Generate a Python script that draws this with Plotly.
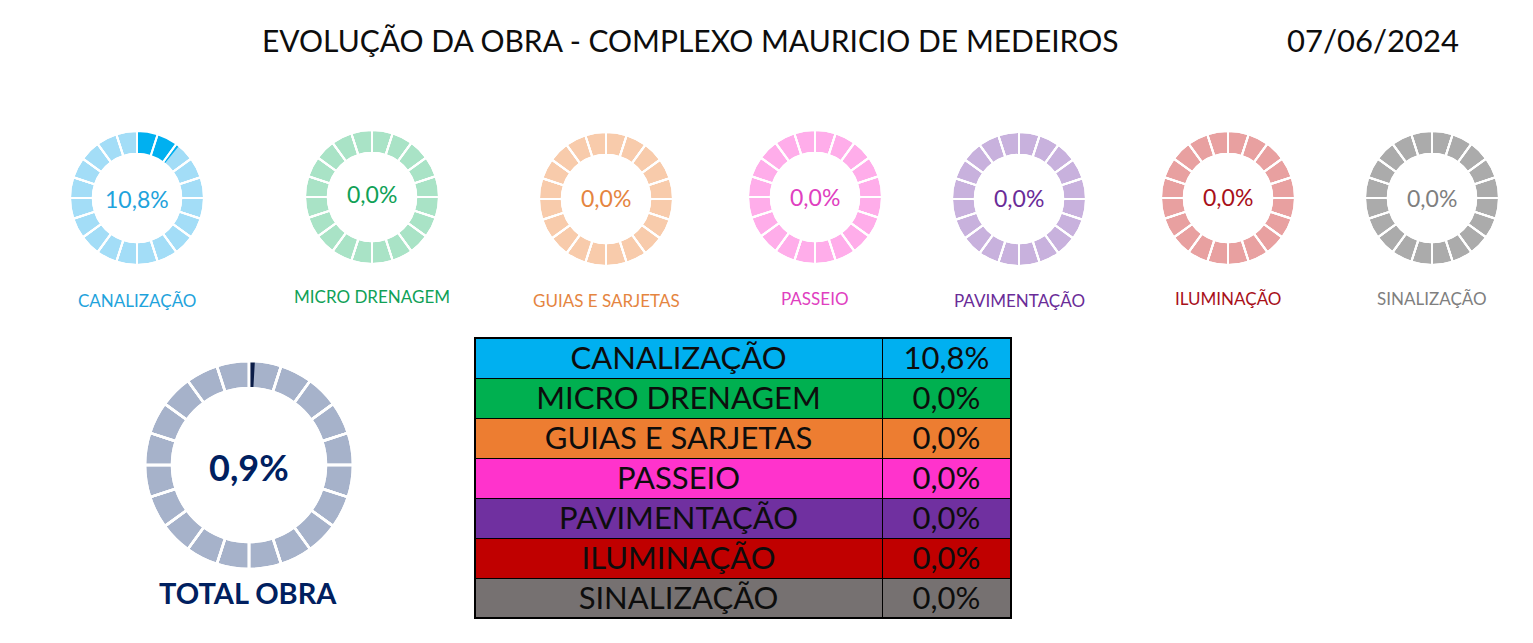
import plotly.graph_objects as go

W, H = 1533, 643

# ---- data ----
title_text = "EVOLUÇÃO DA OBRA - COMPLEXO MAURICIO DE MEDEIROS"
date_text = "07/06/2024"
categories = ["CANALIZAÇÃO", "MICRO DRENAGEM", "GUIAS E SARJETAS", "PASSEIO",
              "PAVIMENTAÇÃO", "ILUMINAÇÃO", "SINALIZAÇÃO"]
progress = [10.8, 0.0, 0.0, 0.0, 0.0, 0.0, 0.0]
total_label = "TOTAL OBRA"
total_progress = 0.9
n_segments = 20

# ---- styles ----
dark_colors = ["#00B0F0", "#00B050", "#ED7D31", "#FF33CC", "#7030A0", "#C00000", "#767171"]
light_colors = ["#A3DDF7", "#A9E3C6", "#F8CBAB", "#FFADEA", "#C8B1DD", "#E8A0A0", "#ABABAB"]
text_colors = ["#1FA3DC", "#10A157", "#E5853F", "#E040C0", "#6A2C98", "#A8101A", "#7F7F7F"]
table_fill = ["#00B0F0", "#00B050", "#ED7D31", "#FF33CC", "#7030A0", "#C00000", "#767171"]
total_light = "#A6B2CA"
total_dark = "#0B1D48"
total_text = "#002060"

small_cx = [137, 372, 606, 815, 1019, 1228, 1432]
small_cy = [198, 197, 199, 197, 199, 198, 198]
small_r = 67
label_y = [300, 296, 300, 298, 300, 298, 298]
pct_y = [199, 194, 198, 197, 198, 197, 198]
big_cx, big_cy, big_r = 249, 465, 104

FONT = "Lato"


def fmt(v):
    return f"{v:.1f}%".replace(".", ",")


def domain(cx, cy, r):
    return dict(x=[(cx - r) / W, (cx + r) / W], y=[1 - (cy + r) / H, 1 - (cy - r) / H])


def donut(fig, cx, cy, r, value, light, dark, hole, gap):
    d = domain(cx, cy, r)
    common = dict(domain=d, hole=hole, sort=False, direction="clockwise", rotation=0,
                  textinfo="none", hoverinfo="skip", showlegend=False)
    fig.add_trace(go.Pie(values=[1] * n_segments,
                         marker=dict(colors=[light] * n_segments,
                                     line=dict(color="white", width=gap)), **common))
    fig.add_trace(go.Pie(values=[value, 100 - value],
                         marker=dict(colors=[dark, "rgba(0,0,0,0)"],
                                     line=dict(color="rgba(0,0,0,0)", width=0)), **common))
    fig.add_trace(go.Pie(values=[1] * n_segments,
                         marker=dict(colors=["rgba(0,0,0,0)"] * n_segments,
                                     line=dict(color="white", width=gap)), **common))


fig = go.Figure()
annotations = []

for i, cat in enumerate(categories):
    donut(fig, small_cx[i], small_cy[i], small_r, progress[i],
          light_colors[i], dark_colors[i], 0.66, 2)
    annotations.append(dict(x=small_cx[i] / W, y=1 - pct_y[i] / H, text=fmt(progress[i]),
                            font=dict(family=FONT, size=23, color=text_colors[i])))
    annotations.append(dict(x=small_cx[i] / W, y=1 - label_y[i] / H, text=cat,
                            font=dict(family=FONT, size=17, color=text_colors[i])))

donut(fig, big_cx, big_cy, big_r, total_progress, total_light, total_dark, 0.74, 2.5)
annotations.append(dict(x=big_cx / W, y=1 - 467 / H, text=f"<b>{fmt(total_progress)}</b>",
                        font=dict(family=FONT, size=36, color=total_text)))
annotations.append(dict(x=248 / W, y=1 - 592 / H, text=f"<b>{total_label}</b>",
                        font=dict(family=FONT, size=29, color=total_text)))

annotations.append(dict(x=690 / W, y=1 - 40 / H, text=title_text,
                        font=dict(family=FONT, size=30, color="#0D0D0D")))
annotations.append(dict(x=1373 / W, y=1 - 40 / H, text=date_text,
                        font=dict(family=FONT, size=31, color="#0D0D0D")))

for a in annotations:
    a.update(xref="paper", yref="paper", showarrow=False, xanchor="center", yanchor="middle")

# ---- table ----
tx0, tx1, ty0, ty1 = 475, 1011, 338, 618
row_h = (ty1 - ty0) / len(categories)
pct_strings = [fmt(v) for v in progress]
fig.add_trace(go.Table(
    domain=dict(x=[tx0 / W, tx1 / W], y=[1 - ty1 / H, 1 - ty0 / H]),
    columnwidth=[407, 129],
    header=dict(values=[categories[0], pct_strings[0]],
                fill_color=table_fill[0], line=dict(color="black", width=1),
                align="center", height=row_h,
                font=dict(family=FONT, size=31, color="#0D0D0D")),
    cells=dict(values=[categories[1:], pct_strings[1:]],
               fill_color=[table_fill[1:], table_fill[1:]],
               line=dict(color="black", width=1),
               align="center", height=row_h,
               font=dict(family=FONT, size=31, color="#0D0D0D")),
))

fig.add_shape(type="rect", xref="paper", yref="paper",
              x0=tx0 / W, x1=tx1 / W, y0=1 - ty1 / H, y1=1 - ty0 / H,
              line=dict(color="black", width=2), fillcolor="rgba(0,0,0,0)")

fig.update_layout(width=W, height=H, margin=dict(l=0, r=0, t=0, b=0),
                  paper_bgcolor="white", plot_bgcolor="white",
                  annotations=annotations)

fig.write_html("out.html", config={"displayModeBar": False})
